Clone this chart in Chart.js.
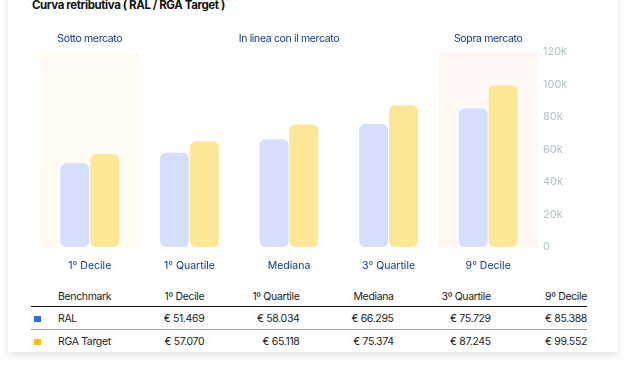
<!DOCTYPE html>
<html>
<head>
<meta charset="utf-8">
<script src="https://cdn.jsdelivr.net/npm/chart.js@4.4.0/dist/chart.umd.min.js"></script>
<style>
  body { margin: 0; background: #fff; font-family: Inter, "Noto Sans", sans-serif; }
  .card {
    position: absolute; left: 8px; top: -20px; width: 610px; height: 372px;
    background: #fff; box-shadow: 0 3px 8px rgba(0,0,0,0.12);
  }
  .title { position: absolute; left: 32px; top: -2px; font-size: 11.5px; font-weight: 700; color: #111; letter-spacing: -0.4px; }
  .wrap { position: absolute; left: 0; top: 0; width: 600px; height: 275px; }
  table { position: absolute; left: 31px; top: 286px; width: 556px; border-collapse: collapse; table-layout: fixed;
          font-size: 10.5px; letter-spacing: -0.35px; color: #222; }
  td, th { font-weight: 400; padding: 0; height: 22px; text-align: right; white-space: nowrap; }
  th { height: 20px; }
  thead tr { border-bottom: 1.5px solid #111; }
  tbody tr:first-child { border-bottom: 1px solid #9aa5a5; }
  .mk { text-align: left; }
  .mk span { display: inline-block; width: 7px; height: 6px; margin-left: 3px; }
  .nm { text-align: left; }
</style>
</head>
<body>
<div class="card"></div>
<div class="title">Curva retributiva ( RAL / RGA Target )</div>
<div class="wrap"><canvas id="c"></canvas></div>
<table id="tbl"></table>
<script>
const categories = ["1° Decile", "1° Quartile", "Mediana", "3° Quartile", "9° Decile"];
const ral = [51469, 58034, 66295, 75729, 85388];
const rgaTarget = [57070, 65118, 75374, 87245, 99552];
const yTicks = [0, 20000, 40000, 60000, 80000, 100000, 120000];
const zones = [
  { label: "Sotto mercato", from: 0, to: 0, fill: "#fffbf3" },
  { label: "In linea con il mercato", from: 1, to: 3, fill: null },
  { label: "Sopra mercato", from: 4, to: 4, fill: "#fff8f4" }
];

const fmt = (v) => "€ " + v.toLocaleString("de-DE");

// tabella sotto il grafico
const tbl = document.getElementById("tbl");
let html = "<colgroup><col style='width:27px'><col style='width:50px'>" +
  "<col style='width:96px'><col style='width:95px'><col style='width:94px'><col style='width:97px'><col style='width:96px'></colgroup>";
html += "<thead><tr><th class='mk'></th><th class='nm'>Benchmark</th>";
categories.forEach((c) => { html += "<th>" + c.replace("°", "º") + "</th>"; });
html += "</tr></thead><tbody>";
[["RAL", ral, "#2f6ae8"], ["RGA Target", rgaTarget, "#ffbf10"]].forEach(([name, vals, col]) => {
  html += "<tr><td class='mk'><span style='background:" + col + "'></span></td><td class='nm'>" + name + "</td>";
  vals.forEach((v) => { html += "<td>" + fmt(v) + "</td>"; });
  html += "</tr>";
});
html += "</tbody>";
tbl.innerHTML = html;

const zonePlugin = {
  id: "zones",
  beforeDatasetsDraw(chart) {
    const { ctx, chartArea, scales } = chart;
    const half = (scales.x.getPixelForValue(1) - scales.x.getPixelForValue(0)) / 2;
    ctx.save();
    zones.forEach((z) => {
      const x0 = scales.x.getPixelForValue(z.from) - half;
      const x1 = scales.x.getPixelForValue(z.to) + half;
      if (z.fill) {
        ctx.fillStyle = z.fill;
        ctx.fillRect(x0, chartArea.top, x1 - x0, chartArea.bottom - chartArea.top);
      }
      ctx.fillStyle = "#0b3b8f";
      ctx.font = "10.5px Inter, 'Noto Sans', sans-serif";
      ctx.letterSpacing = "-0.35px";
      ctx.textAlign = "center";
      ctx.textBaseline = "middle";
      ctx.fillText(z.label, (x0 + x1) / 2, 39);
    });
    ctx.restore();
  }
};

new Chart(document.getElementById("c"), {
  type: "bar",
  data: {
    labels: categories,
    datasets: [
      { label: "RAL", data: ral, backgroundColor: "#d5dffd", borderRadius: 6, borderSkipped: false,
        categoryPercentage: 0.6, barPercentage: 0.97 },
      { label: "RGA Target", data: rgaTarget, backgroundColor: "#fce797", borderRadius: 6, borderSkipped: false,
        categoryPercentage: 0.6, barPercentage: 0.97 }
    ]
  },
  options: {
    responsive: true,
    maintainAspectRatio: false,
    animation: false,
    layout: { padding: { top: 52, left: 40, right: 0, bottom: 0 } },
    plugins: { legend: { display: false }, tooltip: { enabled: false } },
    scales: {
      x: {
        grid: { display: false },
        border: { display: false },
        ticks: { color: "#0b3b8f", font: { size: 10.5, family: "Inter" }, padding: 5 },
        afterFit(s) { s.height = 28; }
      },
      y: {
        position: "right",
        min: 0, max: 120000,
        grid: { display: false, drawTicks: false },
        border: { display: false },
        afterBuildTicks(s) { s.ticks = yTicks.map((v) => ({ value: v })); },
        ticks: {
          color: "#b4c2c4", font: { size: 11, family: "Inter" }, padding: 5,
          callback: (v) => (v === 0 ? "0" : v / 1000 + "k")
        },
        afterFit(s) { s.width = 62; }
      }
    }
  },
  plugins: [zonePlugin]
});
</script>
</body>
</html>
